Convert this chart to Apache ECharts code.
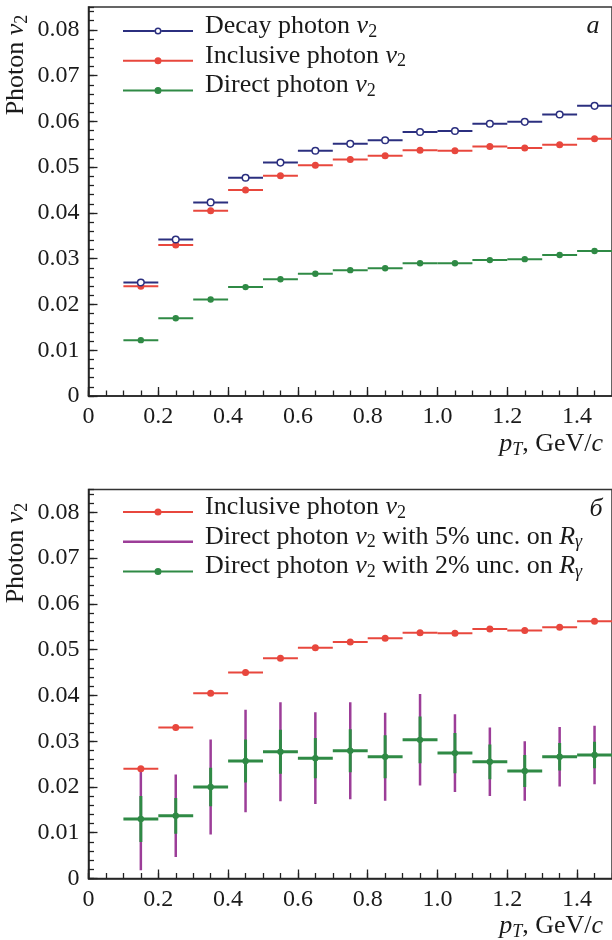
<!DOCTYPE html>
<html><head><meta charset="utf-8">
<script src="https://cdn.jsdelivr.net/npm/echarts@6/dist/echarts.min.js"></script>
<style>html,body{margin:0;padding:0;background:#fff}#c{width:612px;height:940px}</style>
</head><body><div id="c"></div>
<script>
// ---------- data ----------
const ptCenters = [0.15,0.25,0.35,0.45,0.55,0.65,0.75,0.85,0.95,1.05,1.15,1.25,1.35,1.45];
const ptBinHalfWidth = 0.05;
const decayV2     = [0.0248,0.0342,0.0423,0.0477,0.0510,0.0536,0.0551,0.0559,0.0577,0.0579,0.0595,0.0599,0.0615,0.0634];
const inclusiveV2 = [0.0240,0.0330,0.0405,0.0450,0.0481,0.0504,0.0517,0.0525,0.0537,0.0536,0.0545,0.0542,0.0549,0.0562];
const inclusiveErr= [0.0006,0.0006,0.0006,0.0006,0.0006,0.0006,0.0006,0.0006,0.0006,0.0006,0.0006,0.0006,0.0006,0.0006];
const directV2    = [0.0122,0.0170,0.0211,0.0238,0.0255,0.0267,0.0275,0.0279,0.0290,0.0290,0.0297,0.0299,0.0308,0.0317];
const directErr   = [0.0002,0.0002,0.0002,0.0002,0.0002,0.0002,0.0002,0.0002,0.0002,0.0002,0.0002,0.0002,0.0002,0.0002];
const directV2B   = [0.0130,0.0137,0.0200,0.0257,0.0277,0.0263,0.0279,0.0266,0.0303,0.0274,0.0255,0.0235,0.0266,0.0270];
const directErr5  = [0.0112,0.0090,0.0104,0.0112,0.0108,0.0100,0.0106,0.0096,0.0100,0.0085,0.0075,0.0065,0.0065,0.0064];
const directErr2  = [0.0050,0.0039,0.0042,0.0047,0.0048,0.0044,0.0047,0.0047,0.0051,0.0044,0.0038,0.0035,0.0030,0.0029];
const xTickLabels = ['0','0.2','0.4','0.6','0.8','1.0','1.2','1.4'];
const yTickLabels = ['0','0.01','0.02','0.03','0.04','0.05','0.06','0.07','0.08'];

// ---------- styling ----------
const FONT = "Liberation Serif";
const TXT = '#1a1a1a';
const AX = '#222';
const C_DECAY = '#2b2f7f', C_INCL = '#e8473d', C_DIR = '#2f8a45', C_PURP = '#9c3d98';

const N_DECAY = 'Decay photon v2';
const N_INCL = 'Inclusive photon v2';
const N_DIR = 'Direct photon v2';
const N_DIR5 = 'Direct photon v2 with 5% unc. on Rγ';
const N_DIR2 = 'Direct photon v2 with 2% unc. on Rγ';
const richNames = {};
richNames[N_DECAY] = '{r|Decay photon }{i|v}{s|2}';
richNames[N_INCL] = '{r|Inclusive photon }{i|v}{s|2}';
richNames[N_DIR] = '{r|Direct photon }{i|v}{s|2}';
richNames[N_DIR5] = '{r|Direct photon }{i|v}{s|2}{r| with 5% unc. on }{i|R}{si|γ}';
richNames[N_DIR2] = '{r|Direct photon }{i|v}{s|2}{r| with 2% unc. on }{i|R}{si|γ}';

function richStyles(colorKey) {
  const o = {};
  const base = {fontFamily: FONT, fontSize: 26, lineHeight: 20, verticalAlign: 'middle'};
  const sub = {fontFamily: FONT, fontSize: 18, lineHeight: 8, height: 8, verticalAlign: 'bottom'};
  o.r = Object.assign({}, base); o.i = Object.assign({fontStyle: 'italic'}, base);
  o.s = Object.assign({}, sub); o.si = Object.assign({fontStyle: 'italic'}, sub);
  for (const k in o) o[k][colorKey] = TXT;
  return o;
}

const ICON_OPEN = 'path://M0,2.5H31.5V4.5H0Z M38.5,2.5H70V4.5H38.5Z M31.5,3.5A3.5,3.5 0 1,1 38.5,3.5A3.5,3.5 0 1,1 31.5,3.5Z M33,3.5A2,2 0 1,0 37,3.5A2,2 0 1,0 33,3.5Z';
const ICON_FILLED = 'path://M0,2.5H70V4.5H0Z M31.5,3.5A3.5,3.5 0 1,1 38.5,3.5A3.5,3.5 0 1,1 31.5,3.5Z';
const ICON_LINE = 'path://M0,0H70V2.4H0Z';

function xLabel(v) { const i = Math.round(v / 0.2); return (Math.abs(v - i * 0.2) < 1e-9 && xTickLabels[i] !== undefined) ? xTickLabels[i] : ''; }
function yLabel(v) { const i = Math.round(v / 0.01); return (Math.abs(v - i * 0.01) < 1e-9 && yTickLabels[i] !== undefined) ? yTickLabels[i] : ''; }

function xAxes(grid) {
  return [
    {gridIndex: grid, type: 'value', position: 'bottom', min: 0, max: 1.5, interval: 0.2,
     axisLine: {show: true, onZero: false, lineStyle: {color: AX, width: 1.5}},
     axisTick: {show: true, inside: true, length: 9, lineStyle: {color: AX, width: 1.3}},
     axisLabel: {show: true, margin: 9, formatter: xLabel, showMaxLabel: false, fontFamily: FONT, fontSize: 24, color: TXT},
     splitLine: {show: false}},
    {gridIndex: grid, type: 'value', position: 'bottom', min: 0, max: 1.5, interval: 0.05,
     axisLine: {show: false, onZero: false},
     axisTick: {show: true, inside: true, length: 5.5, lineStyle: {color: AX, width: 1.3}},
     axisLabel: {show: false}, splitLine: {show: false}}
  ];
}
function yAxes(grid) {
  return [
    {gridIndex: grid, type: 'value', position: 'left', min: 0, max: 0.085, interval: 0.01,
     axisLine: {show: true, onZero: false, lineStyle: {color: AX, width: 1.5}},
     axisTick: {show: true, inside: true, length: 9, lineStyle: {color: AX, width: 1.3}},
     axisLabel: {show: true, margin: 9, formatter: yLabel, showMaxLabel: false, fontFamily: FONT, fontSize: 24, color: TXT},
     splitLine: {show: false}},
    {gridIndex: grid, type: 'value', position: 'left', min: 0, max: 0.085, interval: 0.002,
     axisLine: {show: false, onZero: false},
     axisTick: {show: true, inside: true, length: 5.5, lineStyle: {color: AX, width: 1.3}},
     axisLabel: {show: false}, splitLine: {show: false}}
  ];
}

function errSeries(o) {
  const data = ptCenters.map((x, k) => [x, o.y[k], o.err ? o.err[k] : 0]);
  return {
    type: 'custom', name: o.name, xAxisIndex: o.axis, yAxisIndex: o.axis,
    data: data, encode: {x: 0, y: 1}, clip: true, z: o.z || 2,
    itemStyle: {color: o.color},
    renderItem: function (params, api) {
      const x = api.value(0), y = api.value(1), e = api.value(2);
      const pC = api.coord([x, y]);
      const children = [];
      if (o.vw && e > 0) {
        const pT = api.coord([x, y + e]), pB = api.coord([x, y - e]);
        children.push({type: 'line', shape: {x1: pC[0], y1: pT[1], x2: pC[0], y2: pB[1]}, style: {stroke: o.color, lineWidth: o.vw}});
      }
      if (o.hw) {
        const pL = api.coord([x - ptBinHalfWidth, y]), pR = api.coord([x + ptBinHalfWidth, y]);
        children.push({type: 'line', shape: {x1: pL[0], y1: pC[1], x2: pR[0], y2: pC[1]}, style: {stroke: o.color, lineWidth: o.hw}});
      }
      if (o.marker) {
        const open = o.marker === 'open';
        children.push({type: 'circle', shape: {cx: pC[0], cy: pC[1], r: o.r},
          style: {fill: open ? '#fff' : o.color, stroke: open ? o.color : null, lineWidth: open ? 1.5 : 0}});
      }
      return {type: 'group', children: children};
    }
  };
}

function legendCfg(top, items) {
  return {
    orient: 'vertical', left: 123, top: top, padding: 0, itemGap: 1.7,
    itemWidth: 70, itemHeight: 7, symbolKeepAspect: true, selectedMode: false,
    data: items,
    formatter: function (n) { return richNames[n]; },
    textStyle: {fontFamily: FONT, fontSize: 26, color: TXT, padding: [0, 0, 10, 7], rich: richStyles('color')},
    itemStyle: {borderWidth: 0}
  };
}

function gText(x, y, text, opts) {
  return Object.assign({
    type: 'text', x: x, y: y, silent: true,
    style: {text: text, rich: richStyles('fill'), fontFamily: FONT, fontSize: 26, fill: TXT,
            align: opts.align || 'center', verticalAlign: 'middle'}
  }, opts.extra || {});
}

const option = {
  animation: false,
  backgroundColor: '#fff',
  textStyle: {fontFamily: FONT},
  grid: [
    {left: 88.5, top: 7, width: 526, height: 389, show: true, borderColor: '#333', borderWidth: 1.5, backgroundColor: 'transparent'},
    {left: 88.5, top: 489.5, width: 526, height: 389, show: true, borderColor: '#333', borderWidth: 1.5, backgroundColor: 'transparent'}
  ],
  xAxis: xAxes(0).concat(xAxes(1)),
  yAxis: yAxes(0).concat(yAxes(1)),
  legend: [
    legendCfg(13, [{name: N_DECAY, icon: ICON_OPEN}, {name: N_INCL, icon: ICON_FILLED}, {name: N_DIR, icon: ICON_FILLED}]),
    legendCfg(494, [{name: N_INCL, icon: ICON_FILLED}, {name: N_DIR5, icon: ICON_LINE}, {name: N_DIR2, icon: ICON_FILLED}])
  ],
  series: [
    errSeries({name: N_INCL, axis: 0, y: inclusiveV2, err: inclusiveErr, color: C_INCL, hw: 2, vw: 2, marker: 'filled', r: 3.5}),
    errSeries({name: N_DECAY, axis: 0, y: decayV2, color: C_DECAY, hw: 2, marker: 'open', r: 3.3}),
    errSeries({name: N_DIR, axis: 0, y: directV2, err: directErr, color: C_DIR, hw: 2, vw: 2, marker: 'filled', r: 3.2}),
    errSeries({name: N_DIR5, axis: 2, y: directV2B, err: directErr5, color: C_PURP, vw: 2.5}),
    errSeries({name: N_DIR2, axis: 2, y: directV2B, err: directErr2, color: C_DIR, hw: 3, vw: 3, marker: 'filled', r: 3.2}),
    errSeries({name: N_INCL, axis: 2, y: inclusiveV2, err: inclusiveErr, color: C_INCL, hw: 2, vw: 2, marker: 'filled', r: 3.5})
  ],
  graphic: [
    gText(16, 65, '{r|Photon }{i|v}{s|2}', {extra: {rotation: Math.PI / 2}}),
    gText(16, 553, '{r|Photon }{i|v}{s|2}', {extra: {rotation: Math.PI / 2}}),
    gText(603, 444, '{i|p}{si|T}{r|, GeV/}{i|c}', {align: 'right'}),
    gText(603, 926, '{i|p}{si|T}{r|, GeV/}{i|c}', {align: 'right'}),
    gText(593, 26, '{i|a}', {}),
    gText(596, 509, '{i|б}', {})
  ]
};

const chart = echarts.init(document.getElementById('c'), null, {renderer: 'canvas'});
chart.setOption(option);
</script>
</body></html>
